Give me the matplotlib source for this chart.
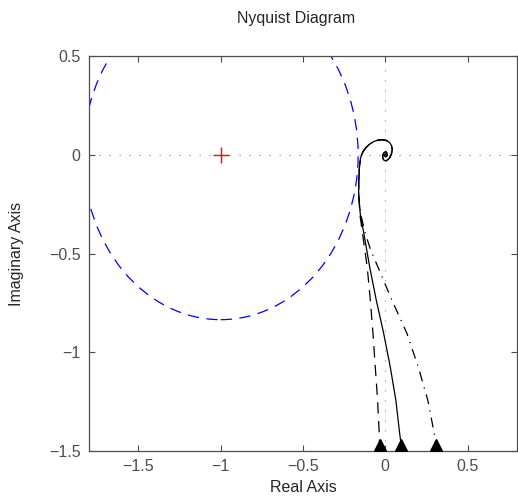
import matplotlib
matplotlib.use('Agg')
import matplotlib.pyplot as plt
from matplotlib.patches import Circle

plt.rc('font', family=['Liberation Sans', 'DejaVu Sans'], size=11.5)

# circle around the critical point
crit_point = (-1.0, 0.0)
circle_radius = 0.835

# part shared by all three loci, spiralling into the origin
spiral_x = [-0.162, -0.161, -0.157, -0.150, -0.138, -0.120, -0.098, -0.072, -0.045,
            -0.018, 0.008, 0.026, 0.038, 0.042, 0.038, 0.029, 0.016, 0.002, -0.010,
            -0.016, -0.014, -0.006, 0.004, 0.011, 0.012, 0.007, 0.000, -0.004, -0.002,
            0.002, 0.003]
spiral_y = [-0.200, -0.130, -0.060, -0.015, 0.012, 0.034, 0.052, 0.066, 0.074,
            0.076, 0.072, 0.062, 0.046, 0.026, 0.006, -0.012, -0.025, -0.031, -0.026,
            -0.013, 0.002, 0.012, 0.015, 0.008, -0.002, -0.009, -0.010, -0.004, 0.002,
            0.003, 0.000]

# low-frequency branches (bottom to top)
solid_x = [0.098, 0.097, 0.087, 0.064, 0.030, -0.010, -0.055, -0.095, -0.130, -0.152]
solid_y = [-1.50, -1.47, -1.41, -1.242, -1.074, -0.904, -0.736, -0.568, -0.400, -0.300]
dashed_x = [-0.035, -0.035, -0.037, -0.047, -0.061, -0.075, -0.091, -0.110, -0.135, -0.153]
dashed_y = [-1.50, -1.47, -1.41, -1.242, -1.074, -0.904, -0.736, -0.568, -0.420, -0.310]
dashdot_x = [0.309, 0.307, 0.297, 0.258, 0.200, 0.131, 0.040, -0.045, -0.090, -0.121, -0.150]
dashdot_y = [-1.50, -1.47, -1.41, -1.242, -1.074, -0.904, -0.736, -0.568, -0.480, -0.400, -0.300]

xticks = [-1.5, -1, -0.5, 0, 0.5]
xticklabels = ['\u22121.5', '\u22121', '\u22120.5', '0', '0.5']
yticks = [-1.5, -1, -0.5, 0, 0.5]
yticklabels = ['\u22121.5', '\u22121', '\u22120.5', '0', '0.5']

axcol = '#4d4d4d'

fig = plt.figure(figsize=(5.18, 4.98), dpi=100)
ax = fig.add_axes([89 / 518, 47 / 498, 428 / 518, 395 / 498])

ax.axhline(0, color='#888888', lw=0.8, ls=(0, (1, 8)), zorder=1)
ax.axvline(0, color='#888888', lw=0.8, ls=(0, (1, 8)), zorder=1)

ax.add_patch(Circle(crit_point, circle_radius, fill=False, ec='blue',
                    lw=0.9, ls=(0, (9, 6)), zorder=2))
ax.plot(*crit_point, '+', color='red', ms=11, mew=1.0, zorder=3)

for bx, by, style in [(solid_x, solid_y, '-'),
                      (dashed_x, dashed_y, (0, (9, 6))),
                      (dashdot_x, dashdot_y, (0, (8, 5, 1, 5)))]:
    ax.plot(bx + spiral_x, by + spiral_y, color='black', lw=0.9, ls=style, zorder=4)
    ax.plot(bx[1], by[1], marker='^', color='black', ms=8, zorder=5)

ax.set_xlim(-1.8, 0.8)
ax.set_ylim(-1.5, 0.5)
ax.set_xticks(xticks)
ax.set_xticklabels(xticklabels)
ax.set_yticks(yticks)
ax.set_yticklabels(yticklabels)
ax.tick_params(direction='in', top=True, right=True, length=4, width=0.8,
               colors=axcol, labelsize=11.5, pad=6)
for sp in ax.spines.values():
    sp.set_color(axcol)
    sp.set_linewidth(0.9)

ax.set_xlabel('Real Axis', color='#262626', labelpad=4)
ax.set_ylabel('Imaginary Axis', color='#262626', labelpad=18)
fig.text(296 / 518, 1 - 19 / 498, 'Nyquist Diagram', ha='center', va='center',
         fontsize=11.5, color='#262626')

fig.savefig('out.png', dpi=100)
